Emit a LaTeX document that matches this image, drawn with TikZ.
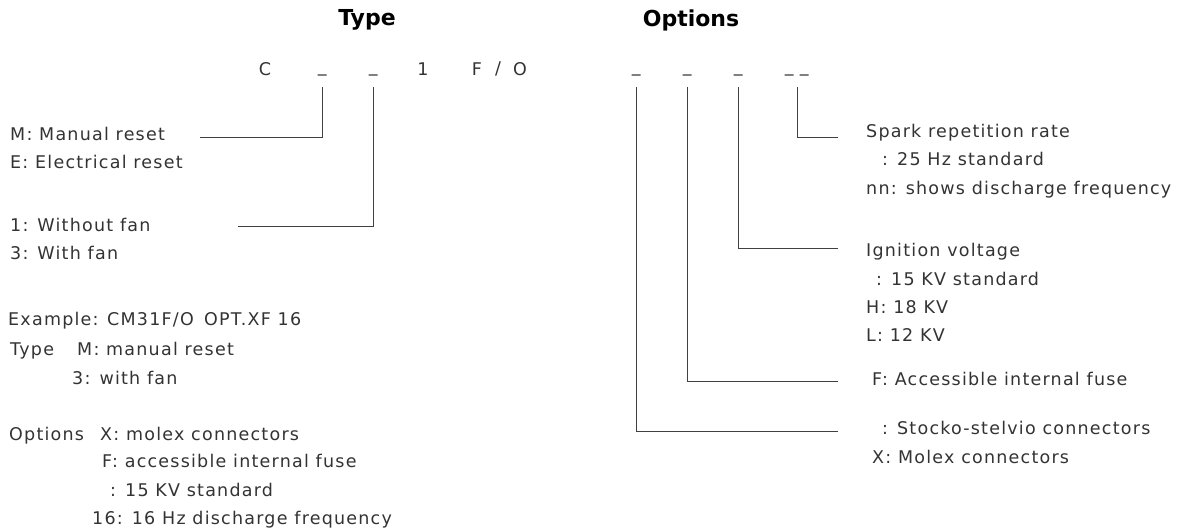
\documentclass[tikz,border=0pt]{standalone}
\usepackage{fontspec}
\setmainfont{DejaVu Sans}[LetterSpace=7]
\newfontfamily\headfont{DejaVu Sans}
\begin{document}
\begin{tikzpicture}[x=1pt,y=-1pt,
    head/.style={font=\headfont\bfseries\fontsize{22}{26}\selectfont},
    txt/.style={anchor=base west,inner sep=0pt,text=black!80,font=\fontsize{17.5}{20}\selectfont},
    code/.style={inner sep=0pt,text=black!80,font=\fontsize{17.5}{20}\selectfont},
    bar/.style={draw=black!50,line width=1.2pt,minimum width=9pt,minimum height=0pt,inner sep=0pt},
    wire/.style={draw=black!75,line width=0.8pt}]
  \useasboundingbox (0,0) rectangle (1184,530);
  % headings
  \node[head] (type) at (367,20) {Type};
  \node[head] (opts) at (691,20) {Options};
  % code line
  \node[code] (c) at (265,69) {C};
  \node[bar] (u1) at (322,75) {};
  \node[bar] (u2) at (373,75) {};
  \node[code] (one) at (423,69) {1};
  \node[code] (f) at (477,69) {F};
  \node[code] (sl) at (498,69) {/};
  \node[code] (o) at (520,69) {O};
  \node[bar] (o1) at (636,75) {};
  \node[bar] (o2) at (687,75) {};
  \node[bar] (o3) at (738,75) {};
  \node[bar] (o4) at (789,75) {};
  \node[bar] (o5) at (804,75) {};
  % left legend
  \node[txt] (man) at (10,140) {M: Manual reset};
  \node[txt] (ele) at (10,168) {E: Electrical reset};
  \node[txt] (nofan) at (10,231) {1: Without fan};
  \node[txt] (fan) at (10,259) {3: With fan};
  \node[txt] (ex) at (8,325) {Example:};
  \node[txt] (excode) at (107,325) {CM31F/O};
  \node[txt] (exopts) at (204,325) {OPT.XF 16};
  \node[txt] (extype) at (10,355) {Type};
  \node[txt] (exm) at (77,355) {M: manual reset};
  \node[txt] (ex3) at (72,384) {3: with fan};
  \node[txt] (exopt) at (9,440) {Options};
  \node[txt] (exx) at (100,440) {X: molex connectors};
  \node[txt] (exf) at (102,467) {F: accessible internal fuse};
  \node[txt] (exkv) at (110,496) {: 15 KV standard};
  \node[txt] (exhz) at (92,524) {16: 16 Hz discharge frequency};
  % right legend
  \node[txt] (spark) at (866,137) {Spark repetition rate};
  \node[txt] (hz) at (882,165) {: 25 Hz standard};
  \node[txt] (nn) at (866,194) {nn: shows discharge frequency};
  \node[txt] (ign) at (866,256) {Ignition voltage};
  \node[txt] (kv) at (876,285) {: 15 KV standard};
  \node[txt] (h) at (866,313) {H: 18 KV};
  \node[txt] (l) at (866,341) {L: 12 KV};
  \node[txt] (fuse) at (872,385) {F: Accessible internal fuse};
  \node[txt] (stock) at (882,434) {: Stocko-stelvio connectors};
  \node[txt] (molex) at (872,463) {X: Molex connectors};
  % leader ends
  \coordinate (e1) at (200,137);
  \coordinate (e2) at (238,226);
  \coordinate (e3) at (838,137);
  \coordinate (e4) at (838,248);
  \coordinate (e5) at (838,381);
  \coordinate (e6) at (838,431);
  \begin{scope}[wire]
    \draw ([yshift=-12pt]u1.center) |- (e1);
    \draw ([yshift=-12pt]u2.center) |- (e2);
    \draw ([xshift=8pt,yshift=-12pt]o4.center) |- (e3);
    \draw ([yshift=-12pt]o3.center) |- (e4);
    \draw ([yshift=-12pt]o2.center) |- (e5);
    \draw ([yshift=-12pt]o1.center) |- (e6);
  \end{scope}
\end{tikzpicture}
\end{document}
